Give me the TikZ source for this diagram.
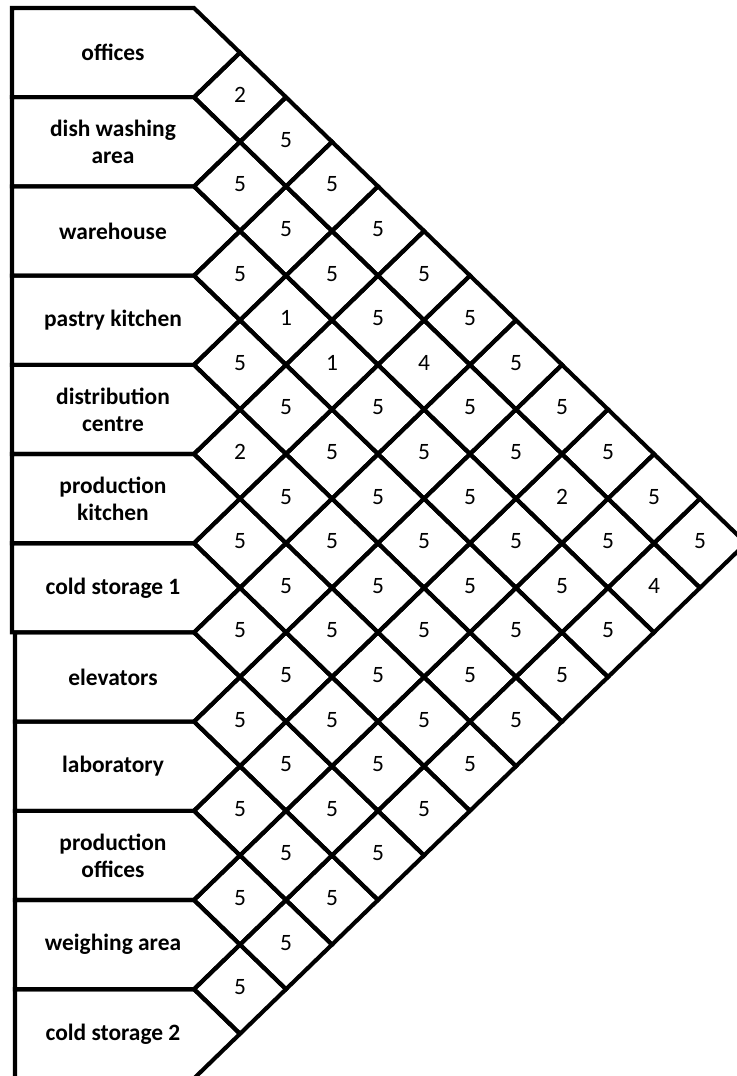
\documentclass[tikz,border=0pt]{standalone}
\usepackage{fontspec}
\setmainfont{Carlito}
\usepackage{tikz}
\usetikzlibrary{calc}

\tikzset{
  dept/.style={font=\fontsize{20}{23}\selectfont\bfseries,align=center,inner sep=0pt},
  score/.style={font=\fontsize{20}{23}\selectfont,inner sep=0pt},
  edge/.style={line width=3.5pt,line join=miter}
}

\begin{document}
\begin{tikzpicture}[x=0.03cm,y=-0.03cm]
\useasboundingbox (0,0) rectangle (737,1076);

% department boxes
\foreach \name/\txt [count=\i] in {offices/offices,dishwash/dish washing\\area,warehouse/warehouse,pastry/pastry kitchen,distrib/distribution\\centre,prodkitchen/production\\kitchen,cold1/cold storage 1,elevators/elevators,lab/laboratory,prodoffices/production\\offices,weighing/weighing area,cold2/cold storage 2} {
  \pgfmathsetmacro\top{8+(\i-1)*89.2}
  \pgfmathsetmacro\lx{\i<8 ? 12 : 15}
  \draw[edge] (\lx,\top)--(194,\top)--(240,\top+44.6)--(194,\top+89.2)--(\lx,\top+89.2)--cycle;
  \node[dept] (\name) at (113,\top+44.6) {\txt};
}

% relationship cells, k = j - i
\foreach \i/\vals in {1/{2,5,5,5,5,5,5,5,5,5,5},2/{5,5,5,5,4,5,5,2,5,4},3/{5,1,1,5,5,5,5,5,5},4/{5,5,5,5,5,5,5,5},5/{2,5,5,5,5,5,5},6/{5,5,5,5,5,5},7/{5,5,5,5,5},8/{5,5,5,5},9/{5,5,5},10/{5,5},11/{5}} {
  \foreach \v [count=\k] in \vals {
    \pgfmathtruncatemacro\j{\i+\k}
    \pgfmathsetmacro\cx{240+(\k-1)*46}
    \pgfmathsetmacro\cy{8+(2*\i+\k-1)*44.6}
    \draw[edge] (\cx-46,\cy)--(\cx,\cy-44.6)--(\cx+46,\cy)--(\cx,\cy+44.6)--cycle;
    \node[score] (s\i-\j) at (\cx,\cy-2) {\v};
  }
}
\end{tikzpicture}
\end{document}
